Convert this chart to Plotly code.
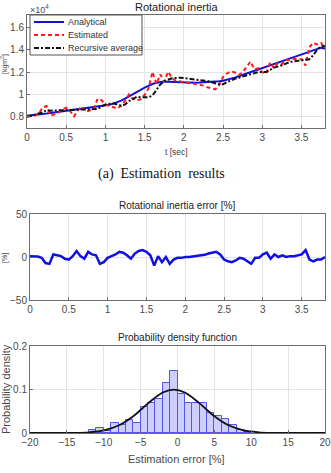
import plotly.graph_objects as go

# ---------------- data ----------------
t_grid = [round(i * 0.05, 2) for i in range(77)]  # 0 .. 3.8 s

analytical = [0.81, 0.813, 0.816, 0.82, 0.825, 0.83, 0.835, 0.84, 0.845, 0.85,
              0.855, 0.86, 0.865, 0.87, 0.874, 0.878, 0.882, 0.886, 0.89, 0.895,
              0.9, 0.908, 0.918, 0.93, 0.945, 0.962, 0.98, 1.0, 1.02, 1.04,
              1.06, 1.078, 1.093, 1.105, 1.112, 1.115, 1.114, 1.112, 1.11, 1.108,
              1.107, 1.106, 1.105, 1.105, 1.106, 1.107, 1.108, 1.11, 1.113, 1.117,
              1.122, 1.13, 1.14, 1.15, 1.162, 1.174, 1.186, 1.198, 1.21, 1.222,
              1.235, 1.248, 1.26, 1.272, 1.284, 1.296, 1.308, 1.32, 1.332, 1.344,
              1.356, 1.368, 1.38, 1.392, 1.405, 1.418, 1.41]

estimated = [0.802, 0.805, 0.812, 0.828, 0.883, 0.896, 0.81, 0.823, 0.837, 0.867,
             0.881, 0.851, 0.804, 0.861, 0.891, 0.845, 0.856, 0.868, 0.961, 0.949,
             0.909, 0.899, 0.89, 0.874, 0.898, 0.943, 1.0, 0.96, 0.949, 0.957,
             0.996, 1.056, 1.202, 1.094, 1.179, 1.115, 1.203, 1.145, 1.121, 1.119,
             1.107, 1.106, 1.099, 1.094, 1.089, 1.079, 1.064, 1.055, 1.046, 1.083,
             1.156, 1.187, 1.208, 1.196, 1.174, 1.197, 1.245, 1.294, 1.222, 1.234,
             1.198, 1.186, 1.285, 1.234, 1.284, 1.27, 1.308, 1.307, 1.319, 1.317,
             1.315, 1.259, 1.421, 1.462, 1.447, 1.461, 1.41]

avg_t = [0, 0.1, 0.2, 0.25, 0.3, 0.5, 0.7, 0.9, 1.0, 1.1, 1.2, 1.25, 1.3, 1.35,
         1.4, 1.45, 1.55, 1.6, 1.65, 1.7, 1.75, 1.85, 1.95, 2.05, 2.2, 2.3, 2.4,
         2.45, 2.5, 2.55, 2.65, 2.75, 2.85, 2.95, 3.05, 3.15, 3.25, 3.35, 3.45,
         3.55, 3.6, 3.65, 3.7, 3.75, 3.8]
recursive_avg = [0.80, 0.82, 0.84, 0.86, 0.855, 0.86, 0.865, 0.87, 0.91, 0.92,
                 0.90, 0.91, 0.94, 0.96, 0.98, 0.975, 0.975, 0.99, 1.04, 1.09,
                 1.12, 1.145, 1.15, 1.14, 1.13, 1.12, 1.10, 1.09, 1.09, 1.11,
                 1.14, 1.16, 1.18, 1.20, 1.20, 1.24, 1.26, 1.29, 1.30, 1.31,
                 1.315, 1.35, 1.40, 1.43, 1.43]

err_pct = [1, 1, 0.5, -1, -7, -8, 3, 2, 1, -2,
           -3, 1, 7, 1, -2, 6, 3, 2, -8, -6,
           -1, 1, 3, 6, 5, 2, -2, 4, 7, 8,
           6, 2, -10, 1, -6, 0, -8, -3, -1, -1,
           0, 0, 0.5, 1, 1.5, 2.5, 4, 5, 6, 3,
           -3, -5, -6, -4, -1, -2, -5, -8, -1, -1,
           3, 5, -2, 3, 0, 2, 0, 1, 1, 2,
           3, 8, -3, -5, -3, -3, 0]

bin_left = list(range(-12, 10))
bin_density = [0.008, 0.012, 0.005, 0.022, 0.019, 0.03, 0.022, 0.06, 0.068, 0.078,
               0.115, 0.142, 0.09, 0.068, 0.068, 0.068, 0.047, 0.04, 0.033, 0.018,
               0.006, 0.002]

pdf_x = [-20, -16, -14, -12, -10, -8, -6, -4, -2, -0.5, 1, 3, 5, 7, 9, 11, 13, 15, 20]
pdf_y = [0.0, 0.00003, 0.0003, 0.0016, 0.0059, 0.0172, 0.0387, 0.068, 0.093, 0.0997,
         0.093, 0.068, 0.0387, 0.0172, 0.0059, 0.0016, 0.0003, 0.00003, 0.0]

legend_names = ["Analytical", "Estimated", "Recursive average"]

# ---------------- figure ----------------
W, H = 331, 473
def py(px):
    return 1 - px / H
def pxx(px):
    return px / W

FONT = "Liberation Sans, Arial, sans-serif"
TICKC = "#4a4a4a"
GRID = "#e4e4e4"
LINEC = "#6e6e6e"

styles = [dict(color="#1010e0", width=2),
          dict(color="#ff1a1a", width=2, dash="4px,3px"),
          dict(color="#111111", width=2, dash="5px,2px,2px,2px")]

fig = go.Figure()

fig.add_trace(go.Scatter(x=t_grid, y=analytical, mode="lines", name=legend_names[0],
                         line=styles[0], showlegend=False, xaxis="x", yaxis="y"))
fig.add_trace(go.Scatter(x=t_grid, y=estimated, mode="lines", name=legend_names[1],
                         line=styles[1], showlegend=False, xaxis="x", yaxis="y"))
fig.add_trace(go.Scatter(x=avg_t, y=recursive_avg, mode="lines", name=legend_names[2],
                         line=styles[2], showlegend=False, xaxis="x", yaxis="y"))

fig.add_trace(go.Scatter(x=t_grid, y=err_pct, mode="lines", showlegend=False,
                         line=dict(color="#1010e0", width=2.5), xaxis="x2", yaxis="y2"))

fig.add_trace(go.Bar(x=[b + 0.5 for b in bin_left], y=bin_density, width=1,
                     showlegend=False,
                     marker=dict(color="rgba(206,206,255,1)",
                                 line=dict(color="#5555ee", width=1)),
                     xaxis="x3", yaxis="y3"))
fig.add_trace(go.Scatter(x=pdf_x, y=pdf_y, mode="lines", line_shape="spline",
                         showlegend=False, line=dict(color="#111111", width=1.8),
                         xaxis="x3", yaxis="y3"))

def ax(**kw):
    base = dict(showline=True, mirror=True, linecolor=LINEC, linewidth=1,
                showgrid=True, gridcolor=GRID, gridwidth=1, zeroline=False,
                automargin=False,
                ticks="inside", ticklen=3, tickcolor=LINEC,
                tickfont=dict(family=FONT, size=10, color=TICKC))
    base.update(kw)
    return base

fig.update_layout(
    width=W, height=H, margin=dict(l=0, r=0, t=0, b=0, autoexpand=False),
    paper_bgcolor="white", plot_bgcolor="white",
    font=dict(family=FONT, color=TICKC),
    showlegend=False,
    xaxis=ax(domain=[pxx(27), pxx(325)], range=[0, 3.8], tickvals=[0, 0.5, 1, 1.5, 2, 2.5, 3, 3.5],
             ticktext=["0", "0.5", "1", "1.5", "2", "2.5", "3", "3.5"], anchor="y"),
    yaxis=ax(domain=[py(128), py(15)], range=[0.7, 1.71], tickvals=[0.8, 1.0, 1.2, 1.4, 1.6],
             ticktext=["0.8", "1", "1.2", "1.4", "1.6"], anchor="x"),
    xaxis2=ax(domain=[pxx(30), pxx(325)], range=[0, 3.8], tickvals=[0, 0.5, 1, 1.5, 2, 2.5, 3, 3.5],
              ticktext=["0", "0.5", "1", "1.5", "2", "2.5", "3", "3.5"], anchor="y2"),
    yaxis2=ax(domain=[py(300), py(214)], range=[-50, 50], tickvals=[-50, 0, 50], anchor="x2"),
    xaxis3=ax(domain=[pxx(30), pxx(325)], range=[-20, 20], tickvals=[-20, -15, -10, -5, 0, 5, 10, 15, 20],
              anchor="y3"),
    yaxis3=ax(domain=[py(433), py(346)], range=[0, 0.2], tickvals=[0, 0.1, 0.2],
              ticktext=["0", "0.1", "0.2"], anchor="x3"),
    bargap=0,
)

# manual legend box (MATLAB style, compact)
shapes = [dict(type="rect", xref="paper", yref="paper",
               x0=pxx(30), x1=pxx(142), y0=py(55), y1=py(15),
               fillcolor="white", line=dict(color="#555555", width=1), layer="above")]
annotations = []
for i, name in enumerate(legend_names):
    yy = 22 + i * 13
    st = styles[i]
    shapes.append(dict(type="line", xref="paper", yref="paper",
                       x0=pxx(34), x1=pxx(64), y0=py(yy), y1=py(yy), layer="above",
                       line=dict(color=st["color"], width=2, dash=st.get("dash", "solid"))))
    annotations.append(dict(text=name, x=pxx(66), y=py(yy), xref="paper", yref="paper",
                            xanchor="left", yanchor="middle", showarrow=False,
                            font=dict(family=FONT, size=9, color="#333333")))

def lab(text, x, y, size, color=TICKC, angle=0, family=FONT, xanchor="center"):
    return dict(text=text, x=pxx(x), y=py(y), xref="paper", yref="paper",
                xanchor=xanchor, yanchor="middle", textangle=angle, showarrow=False,
                font=dict(family=family, size=size, color=color))

annotations += [
    lab("Rotational inertia", 176, 7, 11, "#222222"),
    lab("×10<sup>4</sup>", 28, 9, 9, xanchor="left"),
    lab("[kgm<sup>2</sup>]", 5, 64, 7, angle=-90),
    lab("t [sec]", 176, 152, 8.5, "#404040"),
    lab("(a)  Estimation  results", 161, 174, 14, "#111111",
        family="Liberation Serif, Times New Roman, serif"),
    lab("Rotational inertia error [%]", 177, 205, 10, "#222222"),
    lab("[%]", 5, 258, 7, angle=-90),
    lab("Probability density function", 177, 337, 10, "#222222"),
    lab("Probability density", 6, 389, 11, angle=-90),
    lab("Estimation error [%]", 176, 459, 11),
]
fig.update_layout(annotations=annotations, shapes=shapes)

fig.write_html("out.html")
